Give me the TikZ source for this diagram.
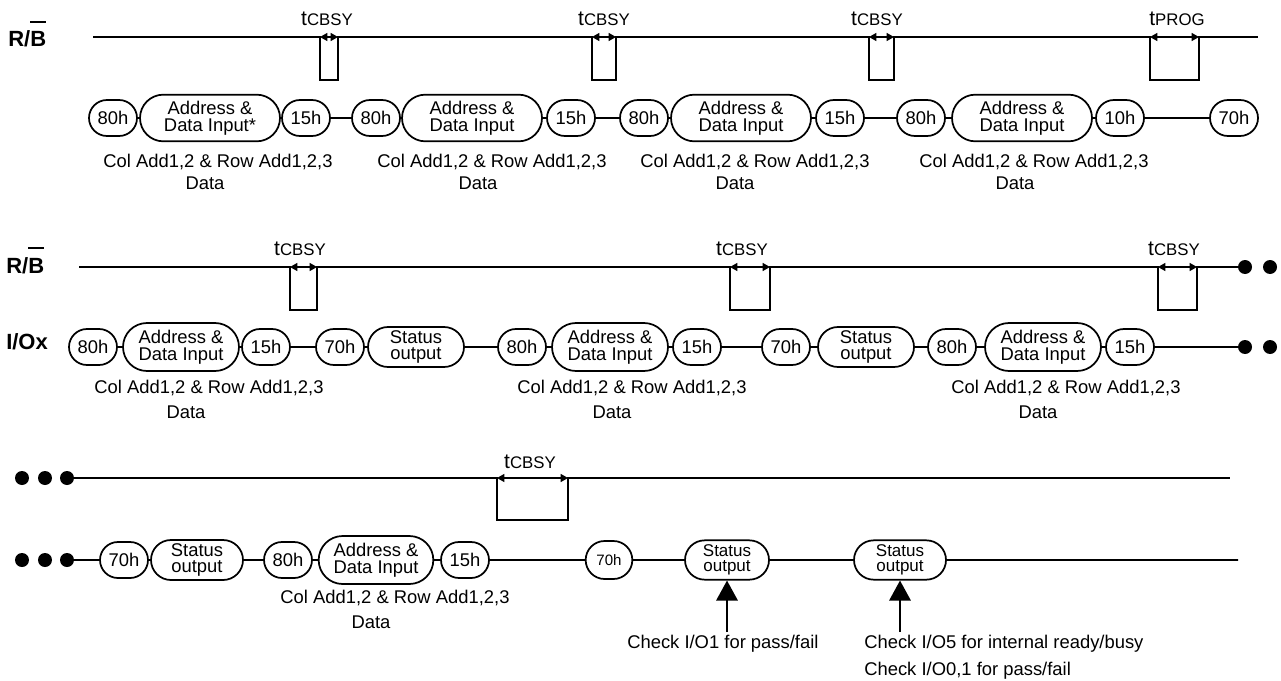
\documentclass[tikz,border=0pt]{standalone}
\usepackage{fontspec}
\setmainfont{Liberation Sans}
\usetikzlibrary{shapes.misc,arrows.meta}
\newcommand\ovB{\setbox0\hbox{B}\rlap{\rule[\dimexpr\ht0+7pt\relax]{\wd0}{1.5pt}}\box0}
\newcommand\tm[1]{{\fontsize{15.75pt}{16pt}\selectfont t}{\fontsize{12.6pt}{14pt}\selectfont #1}}
\tikzset{
  sig/.style={line width=1.5pt},
  con/.style={line width=1.4pt},
  dim/.style={line width=1pt,{Triangle[length=5.5pt,width=6pt]}-{Triangle[length=5.5pt,width=6pt]}},
  big/.style={line width=1.5pt,-{Triangle[length=15pt,width=16pt]}},
  box/.style={draw,line width=1.3pt,rounded rectangle,inner sep=0pt,align=center},
  sn/.style={box,minimum width=36pt,minimum height=27pt,font=\fontsize{13.8pt}{15pt}\selectfont},
  adrA/.style={box,minimum width=105pt,minimum height=35pt,font=\fontsize{13.8pt}{12.5pt}\selectfont},
  adrB/.style={box,minimum width=87pt,minimum height=36pt,font=\fontsize{13.8pt}{12.5pt}\selectfont},
  stB/.style={box,minimum width=72pt,minimum height=30pt,font=\fontsize{13.8pt}{12.5pt}\selectfont},
  stC/.style={box,minimum width=69pt,minimum height=30pt,font=\fontsize{13.8pt}{12.5pt}\selectfont},
  sts/.style={box,minimum width=63pt,minimum height=29.5pt,font=\fontsize{12.75pt}{11.5pt}\selectfont},
  smh/.style={box,minimum width=35pt,minimum height=28.5pt,font=\fontsize{11.3pt}{12pt}\selectfont},
  dot/.style={circle,fill,inner sep=0pt,minimum size=10.5pt},
  txt/.style={inner sep=0pt,font=\fontsize{13.8pt}{15pt}\selectfont},
  lbl/.style={inner sep=0pt,font=\fontsize{16.5pt}{18pt}\selectfont\bfseries},
  tl/.style={inner sep=0pt,anchor=base},
}
\begin{document}
\begin{tikzpicture}[x=0.75pt,y=-0.75pt]
\useasboundingbox (0,0) rectangle (1281,681);

% ---------------- Row 1 ----------------
\node[lbl,anchor=base west] (rb1) at (8,47) {R/\ovB};
\coordinate (s1a) at (93,37);
\coordinate (s1z) at (1258,37);
\draw[sig] (s1a) -- (320,37) -- (320,80) -- (338,80) -- (338,37)
  -- (592,37) -- (592,80) -- (616,80) -- (616,37)
  -- (869,37) -- (869,80) -- (894,80) -- (894,37)
  -- (1150,37) -- (1150,80) -- (1199,80) -- (1199,37) -- (s1z);
\draw[dim] (320,37) -- (338,37);
\draw[dim] (592,37) -- (616,37);
\draw[dim] (869,37) -- (894,37);
\draw[dim] (1150,37) -- (1199,37);
\node[tl] (t1a) at (327,26) {\tm{CBSY}};
\node[tl] (t1b) at (604,26) {\tm{CBSY}};
\node[tl] (t1c) at (877,26) {\tm{CBSY}};
\node[tl] (t1d) at (1177,26) {\tm{PROG}};

\node[sn]   (n1a) at (113,118) {80h};
\node[adrA] (n1b) at (210,118) {Address \&\\Data Input*};
\node[sn]   (n1c) at (306,118) {15h};
\node[sn]   (n1d) at (376,118) {80h};
\node[adrA] (n1e) at (472,118) {Address \&\\Data Input};
\node[sn]   (n1f) at (571,118) {15h};
\node[sn]   (n1g) at (644,118) {80h};
\node[adrA] (n1h) at (741,118) {Address \&\\Data Input};
\node[sn]   (n1i) at (840,118) {15h};
\node[sn]   (n1j) at (921,118) {80h};
\node[adrA] (n1k) at (1022,118) {Address \&\\Data Input};
\node[sn]   (n1l) at (1120,118) {10h};
\node[sn]   (n1m) at (1234,118) {70h};
\foreach \a/\b in {n1a/n1b,n1b/n1c,n1c/n1d,n1d/n1e,n1e/n1f,n1f/n1g,n1g/n1h,n1h/n1i,n1i/n1j,n1j/n1k,n1k/n1l,n1l/n1m}
  \draw[con] (\a) -- (\b);

\node[txt,anchor=base] (c1a) at (218,167) {Col Add1,2 \& Row Add1,2,3};
\node[txt,anchor=base] (c1b) at (492,167) {Col Add1,2 \& Row Add1,2,3};
\node[txt,anchor=base] (c1c) at (755,167) {Col Add1,2 \& Row Add1,2,3};
\node[txt,anchor=base] (c1d) at (1034,167) {Col Add1,2 \& Row Add1,2,3};
\node[txt,anchor=base] (e1a) at (205,190) {Data};
\node[txt,anchor=base] (e1b) at (478,190) {Data};
\node[txt,anchor=base] (e1c) at (735,190) {Data};
\node[txt,anchor=base] (e1d) at (1015,190) {Data};

% ---------------- Row 2 ----------------
\node[lbl,anchor=base west] (rb2) at (6,273) {R/\ovB};
\node[lbl,anchor=base west] (io) at (6,349) {I/Ox};
\coordinate (s2a) at (79,267);
\node[dot] (d2a) at (1245,267) {};
\node[dot] (d2b) at (1270,267) {};
\draw[sig] (s2a) -- (290,267) -- (290,310) -- (317,310) -- (317,267)
  -- (730,267) -- (730,310) -- (770,310) -- (770,267)
  -- (1158,267) -- (1158,310) -- (1197,310) -- (1197,267) -- (d2a);
\draw[dim] (290,267) -- (317,267);
\draw[dim] (730,267) -- (770,267);
\draw[dim] (1158,267) -- (1197,267);
\node[tl] (t2a) at (300,255) {\tm{CBSY}};
\node[tl] (t2b) at (742,255) {\tm{CBSY}};
\node[tl] (t2c) at (1174,255) {\tm{CBSY}};

\node[sn]   (n2a) at (93,347) {80h};
\node[adrB] (n2b) at (181,347) {Address \&\\Data Input};
\node[sn]   (n2c) at (266,347) {15h};
\node[sn]   (n2d) at (340,347) {70h};
\node[stB]  (n2e) at (416,347) {Status\\output};
\node[sn]   (n2f) at (522,347) {80h};
\node[adrB] (n2g) at (610,347) {Address \&\\Data Input};
\node[sn]   (n2h) at (697,347) {15h};
\node[sn]   (n2i) at (786,347) {70h};
\node[stB]  (n2j) at (866,347) {Status\\output};
\node[sn]   (n2k) at (952,347) {80h};
\node[adrB] (n2l) at (1043,347) {Address \&\\Data Input};
\node[sn]   (n2m) at (1130,347) {15h};
\node[dot]  (d2c) at (1245,347) {};
\node[dot]  (d2d) at (1270,347) {};
\foreach \a/\b in {n2a/n2b,n2b/n2c,n2c/n2d,n2d/n2e,n2e/n2f,n2f/n2g,n2g/n2h,n2h/n2i,n2i/n2j,n2j/n2k,n2k/n2l,n2l/n2m,n2m/d2c}
  \draw[con] (\a) -- (\b);

\node[txt,anchor=base] (c2a) at (209,393) {Col Add1,2 \& Row Add1,2,3};
\node[txt,anchor=base] (c2b) at (632,393) {Col Add1,2 \& Row Add1,2,3};
\node[txt,anchor=base] (c2c) at (1066,393) {Col Add1,2 \& Row Add1,2,3};
\node[txt,anchor=base] (e2a) at (186,418) {Data};
\node[txt,anchor=base] (e2b) at (612,418) {Data};
\node[txt,anchor=base] (e2c) at (1038,418) {Data};

% ---------------- Row 3 ----------------
\node[dot] (d3a) at (22,478) {};
\node[dot] (d3b) at (45,478) {};
\node[dot] (d3c) at (67,478) {};
\coordinate (s3z) at (1230,478);
\draw[sig] (d3c) -- (497,478) -- (497,520) -- (568,520) -- (568,478) -- (s3z);
\draw[dim] (497,478) -- (568,478);
\node[tl] (t3a) at (530,468) {\tm{CBSY}};

\node[dot] (d3d) at (22,560) {};
\node[dot] (d3e) at (45,560) {};
\node[dot] (d3f) at (67,560) {};
\node[sn]   (n3a) at (124,560) {70h};
\node[stC]  (n3b) at (197,560) {Status\\output};
\node[sn]   (n3c) at (288,560) {80h};
\node[adrB,minimum width=86pt] (n3d) at (376,560) {Address \&\\Data Input};
\node[sn]   (n3e) at (465,560) {15h};
\node[smh]  (n3f) at (609,560) {70h};
\node[sts]  (n3g) at (727,560) {Status\\output};
\node[sts,minimum width=69pt] (n3h) at (900,560) {Status\\output};
\coordinate (e3z) at (1238,560);
\draw[con] (d3f) -- (n3a);
\foreach \a/\b in {n3a/n3b,n3b/n3c,n3c/n3d,n3d/n3e,n3e/n3f,n3f/n3g,n3g/n3h,n3h/e3z}
  \draw[con] (\a) -- (\b);

\node[txt,anchor=base] (c3a) at (395,603) {Col Add1,2 \& Row Add1,2,3};
\node[txt,anchor=base] (e3a) at (371,628) {Data};

\coordinate (a1) at (727,632);
\coordinate (a2) at (900,632);
\draw[big] (a1) -- (n3g.south);
\draw[big] (a2) -- (n3h.south);
\node[txt,anchor=base west] (k1) at (627,648) {Check I/O1 for pass/fail};
\node[txt,anchor=base west] (k2) at (864,648) {Check I/O5 for internal ready/busy};
\node[txt,anchor=base west] (k3) at (864,675) {Check I/O0,1 for pass/fail};
\end{tikzpicture}
\end{document}
